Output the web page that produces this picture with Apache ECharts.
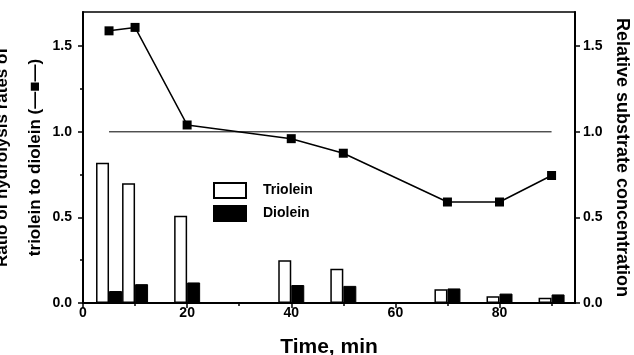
<!DOCTYPE html>
<html>
<head>
<meta charset="utf-8">
<script src="https://cdn.jsdelivr.net/npm/echarts@6/dist/echarts.min.js"></script>
<style>
html,body{margin:0;padding:0;background:#fff;}
#chart{width:634px;height:355px;}
</style>
</head>
<body>
<div id="chart"></div>
<script>
// Data
const times = [5, 10, 20, 40, 50, 70, 80, 90];
const ratio = [1.59, 1.61, 1.04, 0.96, 0.875, 0.59, 0.59, 0.745];
const triolein = [0.82, 0.70, 0.51, 0.25, 0.20, 0.08, 0.04, 0.03];
const diolein = [0.07, 0.11, 0.12, 0.105, 0.10, 0.085, 0.055, 0.05];
const refLineX = [5, 90];
const refLineY = [1.0, 1.0];
const xMajorTicks = [0, 20, 40, 60, 80];
const xMinorTicks = [10, 30, 50, 70, 90];
const yMajorTicks = [0, 0.5, 1.0, 1.5];
const yMinorTicks = [0.25, 0.75, 1.25];

const FONT = 'Liberation Sans, Arial, Helvetica, sans-serif';
const pair = (xs, ys) => xs.map((x, i) => [x, ys[i]]);

const chart = echarts.init(document.getElementById('chart'), null, {renderer: 'canvas'});
const X_MAX = 94.5, Y_MAX = 1.7;

const option = {
  backgroundColor: '#fff',
  animation: false,
  grid: {left: 83, right: 59, top: 12, bottom: 52, show: true, borderColor: '#000', borderWidth: 1.5, containLabel: false, outerBoundsMode: 'none'},
  legend: {
    data: ['Triolein', 'Diolein'],
    orient: 'vertical', left: 213, top: 182, padding: 0,
    itemWidth: 32, itemHeight: 15, itemGap: 6, icon: 'rect',
    textStyle: {fontFamily: FONT, fontSize: 14, fontWeight: 'bold', color: '#000', padding: [0, 0, 0, 12]}
  },
  xAxis: [{
    type: 'value', min: 0, max: X_MAX,
    name: 'Time, min', nameLocation: 'middle', nameGap: 34,
    nameTextStyle: {fontFamily: FONT, fontSize: 21, fontWeight: 'bold', color: '#000'},
    axisLine: {show: true, lineStyle: {color: '#000', width: 2}},
    axisTick: {show: true, customValues: xMajorTicks, length: 5, inside: false, lineStyle: {color: '#000', width: 1.5}},
    axisLabel: {customValues: xMajorTicks, margin: 3, fontFamily: FONT, fontSize: 14, fontWeight: 'bold', color: '#000'},
    splitLine: {show: false}
  }, {
    type: 'value', min: 0, max: X_MAX, position: 'bottom',
    axisLine: {show: false},
    axisTick: {show: true, customValues: xMinorTicks, length: 3, lineStyle: {color: '#000', width: 1.5}},
    axisLabel: {show: false}, splitLine: {show: false}
  }],
  yAxis: [{
    type: 'value', min: 0, max: Y_MAX, position: 'left',
    name: 'Ratio of hydrolysis rates of\ntriolein to diolein (\u2014\u25A0\u2014)',
    nameLocation: 'middle', nameGap: 31, nameRotate: 90, nameMoveOverlap: false,
    nameTextStyle: {fontFamily: FONT, fontSize: 17, fontWeight: 'bold', color: '#000', lineHeight: 33},
    axisLine: {show: true, lineStyle: {color: '#000', width: 2}},
    axisTick: {show: true, customValues: yMajorTicks, length: 5, lineStyle: {color: '#000', width: 1.5}},
    axisLabel: {customValues: yMajorTicks, margin: 11, formatter: v => v.toFixed(1), fontFamily: FONT, fontSize: 14, fontWeight: 'bold', color: '#000'},
    splitLine: {show: false}
  }, {
    type: 'value', min: 0, max: Y_MAX, position: 'left',
    axisLine: {show: false},
    axisTick: {show: true, customValues: yMinorTicks, length: 3, lineStyle: {color: '#000', width: 1.5}},
    axisLabel: {show: false}, splitLine: {show: false}
  }, {
    type: 'value', min: 0, max: Y_MAX, position: 'right',
    name: 'Relative substrate concentration',
    nameLocation: 'middle', nameGap: 37, nameRotate: -90,
    nameTextStyle: {fontFamily: FONT, fontSize: 18, fontWeight: 'bold', color: '#000'},
    axisLine: {show: true, lineStyle: {color: '#000', width: 2}},
    axisTick: {show: true, customValues: yMajorTicks, length: 5, lineStyle: {color: '#000', width: 1.5}},
    axisLabel: {customValues: yMajorTicks, margin: 8, formatter: v => v.toFixed(1), fontFamily: FONT, fontSize: 14, fontWeight: 'bold', color: '#000'},
    splitLine: {show: false}
  }],
  series: [{
    name: 'Triolein', type: 'bar', xAxisIndex: 0, yAxisIndex: 2,
    data: pair(times, triolein), barWidth: 13, barGap: '0%',
    itemStyle: {color: '#fff', borderColor: '#000', borderWidth: 1.5},
    z: 2
  }, {
    name: 'Diolein', type: 'bar', xAxisIndex: 0, yAxisIndex: 2,
    data: pair(times, diolein), barWidth: 13, barGap: '0%',
    itemStyle: {color: '#000', borderColor: '#000', borderWidth: 1},
    z: 2
  }, {
    name: 'Reference', type: 'line', xAxisIndex: 0, yAxisIndex: 0,
    data: pair(refLineX, refLineY), symbol: 'none', silent: true,
    lineStyle: {color: '#000', width: 1}, z: 3
  }, {
    name: 'Ratio', type: 'line', xAxisIndex: 0, yAxisIndex: 0,
    data: pair(times, ratio), symbol: 'rect', symbolSize: 9,
    itemStyle: {color: '#000'}, lineStyle: {color: '#000', width: 1.5}, z: 4
  }]
};
chart.setOption(option);
</script>
</body>
</html>
